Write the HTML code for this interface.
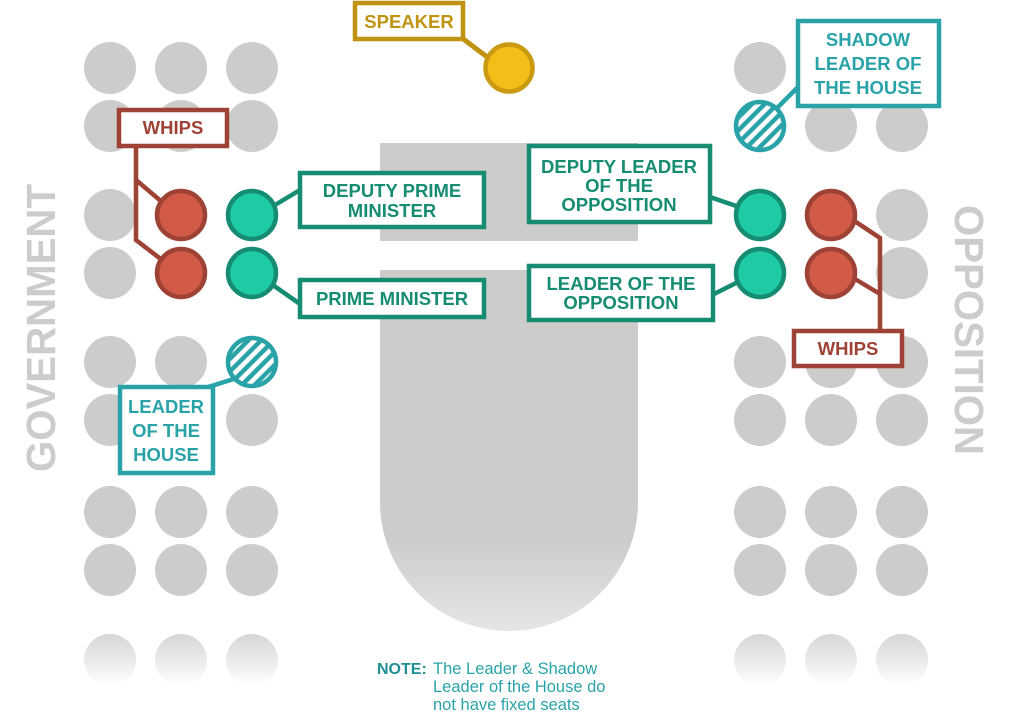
<!DOCTYPE html>
<html><head><meta charset="utf-8"><style>
html,body{margin:0;padding:0;background:#fff;}
svg{display:block;}
text{font-family:"Liberation Sans",sans-serif;font-weight:bold;}
</style></head><body>
<svg width="1024" height="716" viewBox="0 0 1024 716" xmlns="http://www.w3.org/2000/svg">
<defs>
<linearGradient id="tg" x1="0" y1="0" x2="0" y2="1">
<stop offset="0" stop-color="#cccccb"/><stop offset="0.75" stop-color="#cccccb"/><stop offset="1" stop-color="#e6e6e6"/>
</linearGradient>
<linearGradient id="fg" x1="0" y1="0" x2="0" y2="1">
<stop offset="0" stop-color="#d6d6d6"/><stop offset="1" stop-color="#ffffff"/>
</linearGradient>
<pattern id="hatch" patternUnits="userSpaceOnUse" width="9" height="9" patternTransform="rotate(45)">
<rect width="9" height="9" fill="#fff"/><rect width="4.5" height="9" fill="#2aa3a8"/>
</pattern>
</defs>
<rect x="380" y="143" width="258" height="98" fill="#cccccb"/>
<path d="M380 270 H638 V502 A129 129 0 0 1 380 502 Z" fill="url(#tg)"/>
<text x="0" y="0" transform="translate(55,472) rotate(-90)" font-size="41" fill="#cccccb" textLength="288" lengthAdjust="spacingAndGlyphs">GOVERNMENT</text>
<text x="0" y="0" transform="translate(955,205) rotate(90)" font-size="41" fill="#cccccb" textLength="250" lengthAdjust="spacingAndGlyphs">OPPOSITION</text>
<g fill="#cccccb">
<circle cx="110" cy="68" r="26"/><circle cx="181" cy="68" r="26"/><circle cx="252" cy="68" r="26"/>
<circle cx="110" cy="126" r="26"/><circle cx="181" cy="126" r="26"/><circle cx="252" cy="126" r="26"/>
<circle cx="110" cy="215" r="26"/><circle cx="110" cy="273" r="26"/>
<circle cx="110" cy="362" r="26"/><circle cx="181" cy="362" r="26"/>
<circle cx="110" cy="420" r="26"/><circle cx="181" cy="420" r="26"/><circle cx="252" cy="420" r="26"/>
<circle cx="110" cy="512" r="26"/><circle cx="181" cy="512" r="26"/><circle cx="252" cy="512" r="26"/>
<circle cx="110" cy="570" r="26"/><circle cx="181" cy="570" r="26"/><circle cx="252" cy="570" r="26"/>
<circle cx="760" cy="68" r="26"/>
<circle cx="831" cy="126" r="26"/><circle cx="902" cy="126" r="26"/>
<circle cx="902" cy="215" r="26"/><circle cx="902" cy="273" r="26"/>
<circle cx="760" cy="362" r="26"/><circle cx="831" cy="362" r="26"/><circle cx="902" cy="362" r="26"/>
<circle cx="760" cy="420" r="26"/><circle cx="831" cy="420" r="26"/><circle cx="902" cy="420" r="26"/>
<circle cx="760" cy="512" r="26"/><circle cx="831" cy="512" r="26"/><circle cx="902" cy="512" r="26"/>
<circle cx="760" cy="570" r="26"/><circle cx="831" cy="570" r="26"/><circle cx="902" cy="570" r="26"/>
</g>
<g fill="url(#fg)">
<ellipse cx="110" cy="660" rx="26" ry="26"/><ellipse cx="181" cy="660" rx="26" ry="26"/><ellipse cx="252" cy="660" rx="26" ry="26"/>
<ellipse cx="760" cy="660" rx="26" ry="26"/><ellipse cx="831" cy="660" rx="26" ry="26"/><ellipse cx="902" cy="660" rx="26" ry="26"/>
</g>
<line x1="462" y1="38" x2="495" y2="63" stroke="#bf930f" stroke-width="5"/>
<rect x="355" y="3" width="108" height="36" fill="#fff" stroke="#bf930f" stroke-width="4.5"/>
<text x="409" y="28" font-size="18.5" fill="#bf930f" text-anchor="middle">SPEAKER</text>
<circle cx="509" cy="68" r="23.5" fill="#f5bd17" stroke="#c99a12" stroke-width="4.5"/>
<polyline points="136,146 136,180 162,202" fill="none" stroke="#9e4236" stroke-width="4.5"/>
<polyline points="136,178 136,240 162,260" fill="none" stroke="#9e4236" stroke-width="4.5"/>
<rect x="119" y="110" width="108" height="36" fill="#fff" stroke="#9e4236" stroke-width="4.5"/>
<text x="173" y="134" font-size="18.5" fill="#9e4236" text-anchor="middle">WHIPS</text>
<circle cx="181" cy="215" r="24" fill="#d25b48" stroke="#9e4236" stroke-width="4.5"/>
<circle cx="181" cy="273" r="24" fill="#d25b48" stroke="#9e4236" stroke-width="4.5"/>
<line x1="270" y1="208" x2="300" y2="190" stroke="#168c72" stroke-width="4.5"/>
<line x1="270" y1="283" x2="300" y2="304" stroke="#168c72" stroke-width="4.5"/>
<circle cx="252" cy="215" r="24" fill="#1ecba4" stroke="#168c72" stroke-width="4.5"/>
<circle cx="252" cy="273" r="24" fill="#1ecba4" stroke="#168c72" stroke-width="4.5"/>
<rect x="300" y="173" width="184" height="54" fill="#fff" stroke="#168c72" stroke-width="4.5"/>
<text x="392" y="197" font-size="18.5" fill="#168c72" text-anchor="middle">DEPUTY PRIME</text>
<text x="392" y="217" font-size="18.5" fill="#168c72" text-anchor="middle">MINISTER</text>
<rect x="300" y="280" width="184" height="37" fill="#fff" stroke="#168c72" stroke-width="4.5"/>
<text x="392" y="305" font-size="18.5" fill="#168c72" text-anchor="middle">PRIME MINISTER</text>
<line x1="205" y1="388" x2="240" y2="377" stroke="#2aa3a8" stroke-width="4.5"/>
<circle cx="252" cy="362" r="24" fill="url(#hatch)" stroke="#2aa3a8" stroke-width="4.5"/>
<rect x="120" y="387" width="93" height="86" fill="#fff" stroke="#2aa3a8" stroke-width="4.5"/>
<text x="166" y="413" font-size="18.5" fill="#2aa3a8" text-anchor="middle">LEADER</text>
<text x="166" y="437" font-size="18.5" fill="#2aa3a8" text-anchor="middle">OF THE</text>
<text x="166" y="461" font-size="18.5" fill="#2aa3a8" text-anchor="middle">HOUSE</text>
<line x1="710" y1="197" x2="742" y2="208" stroke="#168c72" stroke-width="4.5"/>
<line x1="712" y1="295" x2="742" y2="280" stroke="#168c72" stroke-width="4.5"/>
<circle cx="760" cy="215" r="24" fill="#1ecba4" stroke="#168c72" stroke-width="4.5"/>
<circle cx="760" cy="273" r="24" fill="#1ecba4" stroke="#168c72" stroke-width="4.5"/>
<rect x="529" y="146" width="181" height="76" fill="#fff" stroke="#168c72" stroke-width="4.5"/>
<text x="619" y="173" font-size="18.5" fill="#168c72" text-anchor="middle">DEPUTY LEADER</text>
<text x="619" y="192" font-size="18.5" fill="#168c72" text-anchor="middle">OF THE</text>
<text x="619" y="211" font-size="18.5" fill="#168c72" text-anchor="middle">OPPOSITION</text>
<rect x="529" y="266" width="184" height="54" fill="#fff" stroke="#168c72" stroke-width="4.5"/>
<text x="621" y="290" font-size="18.5" fill="#168c72" text-anchor="middle">LEADER OF THE</text>
<text x="621" y="309" font-size="18.5" fill="#168c72" text-anchor="middle">OPPOSITION</text>
<polyline points="850,218 880,238 880,334" fill="none" stroke="#9e4236" stroke-width="4.5"/>
<polyline points="850,276 880,294" fill="none" stroke="#9e4236" stroke-width="4.5"/>
<circle cx="831" cy="215" r="24" fill="#d25b48" stroke="#9e4236" stroke-width="4.5"/>
<circle cx="831" cy="273" r="24" fill="#d25b48" stroke="#9e4236" stroke-width="4.5"/>
<rect x="794" y="331" width="108" height="35" fill="#fff" stroke="#9e4236" stroke-width="4.5"/>
<text x="848" y="355" font-size="18.5" fill="#9e4236" text-anchor="middle">WHIPS</text>
<line x1="775" y1="110" x2="800" y2="85" stroke="#2aa3a8" stroke-width="4.5"/>
<circle cx="760" cy="126" r="24" fill="url(#hatch)" stroke="#2aa3a8" stroke-width="4.5"/>
<rect x="798" y="21" width="141" height="85" fill="#fff" stroke="#2aa3a8" stroke-width="4.5"/>
<text x="868" y="46" font-size="18.5" fill="#2aa3a8" text-anchor="middle">SHADOW</text>
<text x="868" y="70" font-size="18.5" fill="#2aa3a8" text-anchor="middle">LEADER OF</text>
<text x="868" y="94" font-size="18.5" fill="#2aa3a8" text-anchor="middle">THE HOUSE</text>
<text x="377" y="674" font-size="16" fill="#1f8f94">NOTE:</text>
<g font-size="16.5" fill="#2aa3a8">
<text x="433" y="674" style="font-weight:normal">The Leader &amp; Shadow</text>
<text x="433" y="692" style="font-weight:normal">Leader of the House do</text>
<text x="433" y="710" style="font-weight:normal">not have fixed seats</text>
</g>
</svg>
</body></html>
